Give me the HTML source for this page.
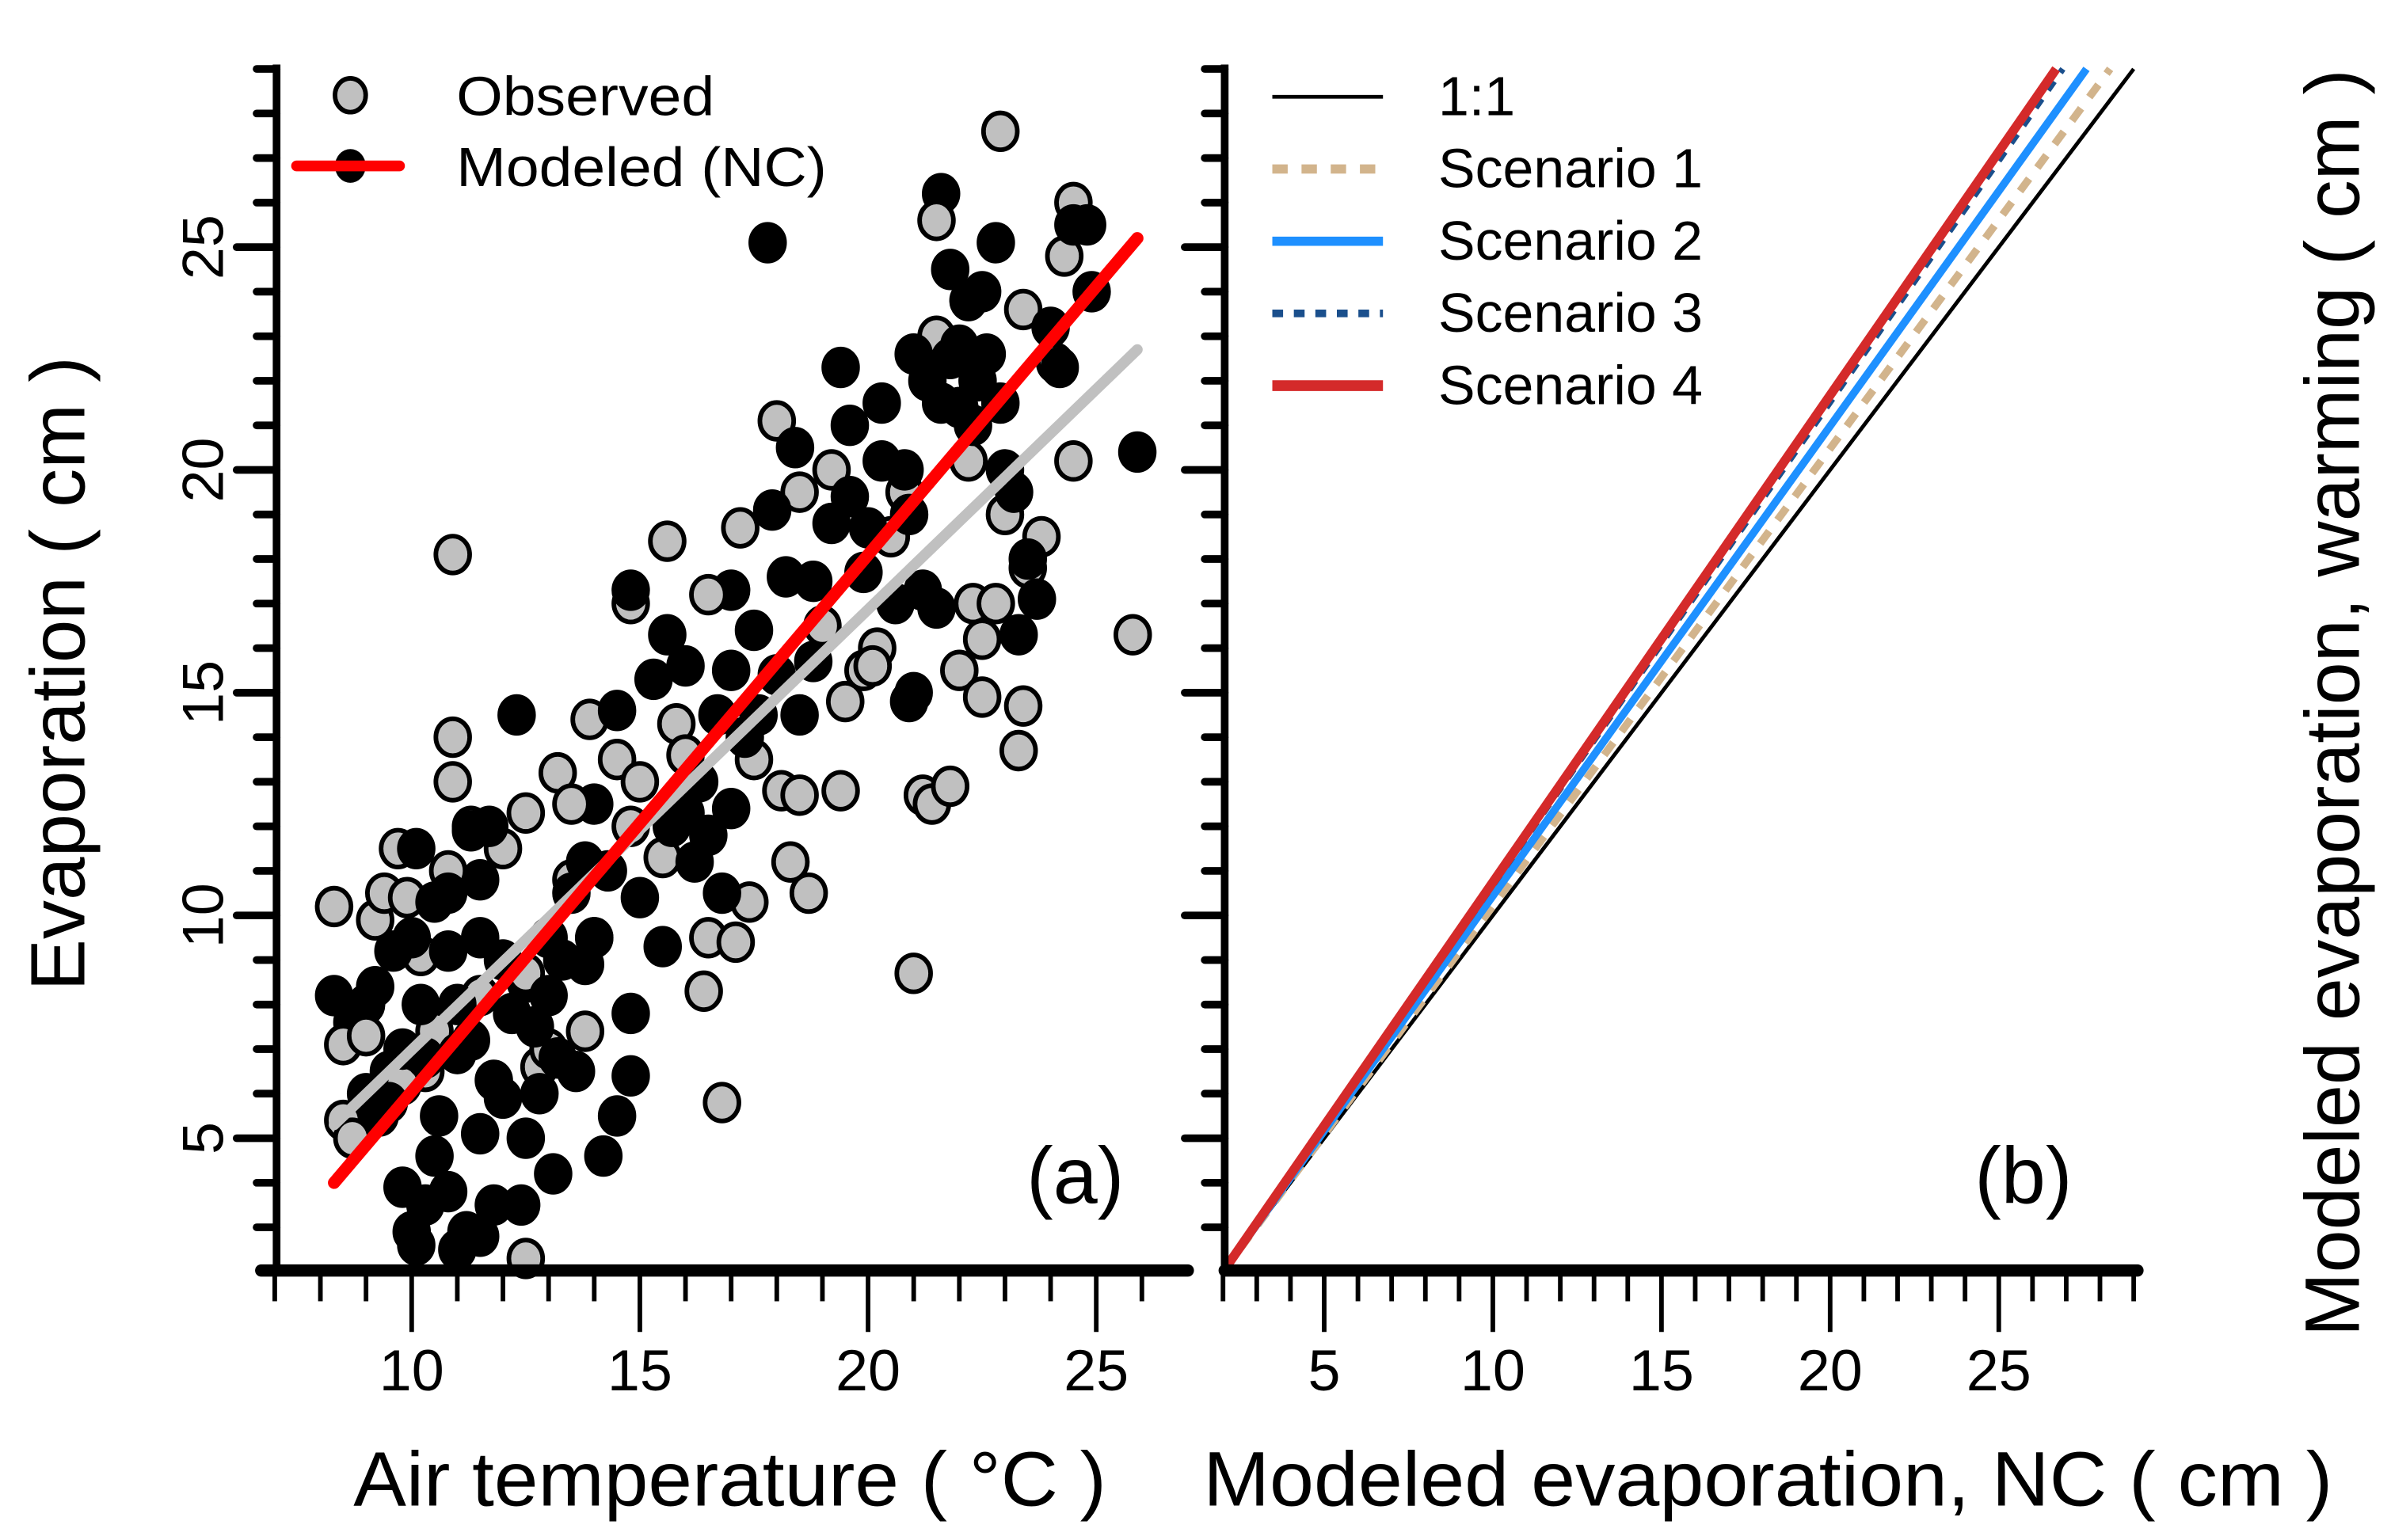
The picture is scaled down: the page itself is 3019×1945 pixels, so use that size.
<!DOCTYPE html>
<html><head><meta charset="utf-8"><style>
html,body{margin:0;padding:0;background:#fff;}
svg{display:block;font-family:"Liberation Sans",Arial,sans-serif;}
</style></head><body>
<svg id="chart" width="3019" height="1945" viewBox="0 0 1556 1002.4" preserveAspectRatio="none" xmlns="http://www.w3.org/2000/svg">
<g id="gA"></g>
<g id="gB"></g>
</svg>
<script>
// ---- data: panel a ----
const obsX=[8.3,8.5,8.5,8.7,9.2,9.4,9.7,9.9,10.2,10.3,10.5,10.9,10.9,10.9,11.3,12.0,12.5,12.5,12.8,13.0,13.2,13.5,13.8,13.9,14.5,14.8,14.8,15.0,15.5,15.6,15.8,16.0,16.5,16.4,16.8,17.1,17.4,17.2,17.5,18.0,18.1,18.3,18.5,18.7,18.5,19.2,19.4,19.5,19.9,20.2,20.5,20.8,21.0,21.2,21.4,21.5,21.8,22.0,22.2,22.3,22.5,22.5,22.8,22.9,23.0,23.3,23.4,23.4,23.5,23.8,24.1,24.3,24.5,24.5,25.8,21.5,20.1,19.0,16.5,14.0,12.5,11.5,9.8,9.0,10.8,13.5];
const obsY=[10.2,7.1,5.4,5.0,9.9,10.5,11.5,10.4,9.1,6.5,7.4,18.1,14.0,13.0,12.0,11.5,12.3,2.3,6.6,7.0,13.2,10.8,7.4,14.4,13.5,12.0,17.0,13.0,11.3,18.4,14.3,13.6,9.5,8.3,5.8,9.4,10.3,18.7,13.5,21.1,12.8,11.2,12.7,10.5,19.5,20.0,12.8,14.8,15.5,16.0,18.5,19.5,8.7,12.7,12.5,23.0,12.9,15.5,20.2,17.0,16.2,14.9,17.0,27.6,19.0,13.7,14.7,23.6,17.8,18.5,22.4,24.8,26.0,20.2,16.3,25.6,15.6,16.5,17.2,9.5,8.7,8.2,6.2,7.3,11.0,12.5];
const modX=[8.3,8.7,9.0,9.2,9.5,9.8,10.0,10.1,10.3,10.5,10.8,11.0,11.2,11.5,11.8,12.4,13.1,14.2,14.5,14.8,14.8,10.1,10.5,10.8,11.3,11.7,12.3,11.5,12.0,12.5,13.0,13.5,13.8,14.0,14.5,14.8,15.3,15.6,16.0,16.3,16.5,16.8,17.0,17.3,17.0,17.5,17.9,18.2,18.4,18.0,18.5,18.8,19.2,19.4,19.6,20.0,20.3,20.9,21.0,21.2,21.5,21.8,22.0,22.2,22.6,22.8,21.6,17.8,23.0,23.3,23.5,23.7,24.0,24.2,24.5,24.8,24.9,25.9,21.0,20.9,12.0,12.8,11.0,12.2,9.5,10.2,11.5,13.2,13.8,15.0,15.5,16.0,14.0,19.9,20.8,22.3,23.2,
 9.0,9.3,9.8,10.3,10.6,11.0,11.3,11.8,12.5,12.7,13.0,13.3,13.6,10.0,10.8,11.5,9.6,21.3,21.6,22.0,22.4,21.8,22.5,22.9,17.0,16.7,18.8,19.6,20.6,20.3,15.7,16.2,14.3,17.6];
const modY=[8.2,7.6,8.0,8.4,6.5,3.9,2.9,2.6,3.5,4.6,3.8,2.5,2.9,2.8,3.5,3.5,4.2,4.6,5.5,6.4,7.8,11.5,10.3,9.2,11.9,12.0,14.5,10.8,9.0,8.5,9.5,10.5,11.2,12.5,14.6,17.3,15.3,16.3,15.6,13.0,11.8,10.5,12.4,14.0,17.3,16.4,19.1,17.6,20.5,15.4,14.5,15.7,18.8,22.3,21.0,18.7,20.2,19.0,22.6,17.3,16.9,22.5,21.4,23.8,22.6,25.1,26.2,25.1,20.0,16.3,18.0,17.1,23.2,22.3,25.5,25.5,24.0,20.4,15.0,14.8,5.9,6.0,6.9,7.8,5.8,8.0,5.1,6.8,8.9,10.4,9.3,12.3,9.5,17.7,20.0,21.0,19.5,
 6.0,5.5,7.0,6.8,5.5,8.0,7.2,6.3,5.0,7.5,8.2,9.0,6.5,9.5,10.5,9.5,9.2,22.0,21.5,22.8,22.0,24.5,24.0,21.5,15.5,14.5,17.5,19.4,17.0,21.5,12.0,11.2,11.0,14.5];
const obsFitX=[8.3,25.9], obsFitY=[5.3,22.7];
const modFitX=[8.3,25.9], modFitY=[4.0,25.2];
const xTicksA=[10,15,20,25], yTicks=[5,10,15,20,25];
// ---- data: panel b ----
const lineNames=["1:1","Scenario 1","Scenario 2","Scenario 3","Scenario 4"];
const lineStartX=[2,2,2,2,2], lineStartY=[2,2,2,2,2];
const lineEndX=[29,28.3,27.6,26.9,26.7], lineEndY=[29,29,29,29,29];
const xTicksB=[5,10,15,20,25];

const NS="http://www.w3.org/2000/svg";
function mk(parent,tag,attrs,text){const e=document.createElementNS(NS,tag);for(const k in attrs)e.setAttribute(k,attrs[k]);if(text!==undefined)e.textContent=text;parent.appendChild(e);return e;}
const yS=v=>827-(v-2.03)*29;
const xA=v=>180+(v-7.04)*29.7;
const xB=v=>797+(v-2.05)*21.95;
const gA=document.getElementById('gA'), gB=document.getElementById('gB');

[[gA,180],[gB,797]].forEach(([g,ax])=>{
  for(let v=3;v<=29;v++){const maj=v%5===0;const t=mk(g,'line',{x1:ax,x2:ax-(maj?26:13),y1:yS(v),y2:yS(v),stroke:'#000','stroke-width':5,'stroke-linecap':'round'});
  
  }
});
yTicks.forEach(v=>{const t=mk(gA,'text',{x:0,y:0,transform:`translate(145,${yS(v)}) rotate(-90)`,'text-anchor':'middle','font-size':38},String(v));

});
for(let v=7;v<=26;v++){const maj=v%5===0;const t=mk(gA,'line',{x1:xA(v),x2:xA(v),y1:827,y2:827+(maj?40:20),stroke:'#000','stroke-width':3});

}
xTicksA.forEach(v=>{const t=mk(gA,'text',{x:xA(v),y:905,'text-anchor':'middle','font-size':38},String(v));

});
for(let v=2;v<=29;v++){const maj=v%5===0;const t=mk(gB,'line',{x1:xB(v),x2:xB(v),y1:827,y2:827+(maj?40:20),stroke:'#000','stroke-width':3});

}
xTicksB.forEach(v=>{const t=mk(gB,'text',{x:xB(v),y:905,'text-anchor':'middle','font-size':38},String(v));

});

const n=Math.max(obsX.length,modX.length);
for(let i=0;i<n;i++){
  if(i<modX.length){const c=mk(gA,'ellipse',{cx:xA(modX[i]),cy:yS(modY[i]),rx:11,ry:12,fill:'#000',stroke:'#000','stroke-width':3});
  
  }
  if(i<obsX.length){const c=mk(gA,'ellipse',{cx:xA(obsX[i]),cy:yS(obsY[i]),rx:11,ry:12,fill:'#c0c0c0',stroke:'#000','stroke-width':3});
  
  }
}
const of=mk(gA,'line',{x1:xA(obsFitX[0]),y1:yS(obsFitY[0]),x2:xA(obsFitX[1]),y2:yS(obsFitY[1]),stroke:'#c0c0c0','stroke-width':7,'stroke-linecap':'round'});


const mf=mk(gA,'line',{x1:xA(modFitX[0]),y1:yS(modFitY[0]),x2:xA(modFitX[1]),y2:yS(modFitY[1]),stroke:'#ff0000','stroke-width':8,'stroke-linecap':'round'});



const axA1=mk(gA,'line',{x1:180,y1:42,x2:180,y2:827,stroke:'#000','stroke-width':5});


const axA2=mk(gA,'line',{x1:170,y1:827,x2:773,y2:827,stroke:'#000','stroke-width':8,'stroke-linecap':'round'});



const colors=['#000','#d2b48c','#1e90ff','#1a4f8c','#d42a2a'];
const widths=[2.5,5,5,4,6];
const dashes=['none','10,9','none','7,7','none'];
[0,1,2,3,4].forEach(i=>{const l=mk(gB,'line',{x1:xB(lineStartX[i]),y1:yS(lineStartY[i]),x2:xB(lineEndX[i]),y2:yS(lineEndY[i]),stroke:colors[i],'stroke-width':widths[i],'stroke-dasharray':dashes[i]});

});
const axB1=mk(gB,'line',{x1:797,y1:42,x2:797,y2:827,stroke:'#000','stroke-width':5});


const axB2=mk(gB,'line',{x1:797,y1:827,x2:1391,y2:827,stroke:'#000','stroke-width':8,'stroke-linecap':'round'});



lineNames.forEach((nm,i)=>{const y=63+i*47;
  const l=mk(gB,'line',{x1:828,x2:900,y1:y,y2:y,stroke:colors[i],'stroke-width':widths[i]+(i==0?0:1),'stroke-dasharray':dashes[i]});
  
  
  const t=mk(gB,'text',{x:936,y:y+12,'font-size':36},nm);
  
  
});
</script>
<svg style="position:absolute;left:0;top:0" width="3019" height="1945" viewBox="0 0 1556 1002.4" preserveAspectRatio="none" xmlns="http://www.w3.org/2000/svg" font-family="Liberation Sans, Arial, sans-serif">
<g>
<ellipse cx="228" cy="62" rx="10" ry="11" fill="#c0c0c0" stroke="#000" stroke-width="3"/>
<ellipse cx="228" cy="108" rx="10" ry="11" fill="#000"/>
<line x1="193" y1="108" x2="260" y2="108" stroke="#ff0000" stroke-width="7" stroke-linecap="round"/>
<text x="297" y="75" font-size="36" textLength="168" lengthAdjust="spacingAndGlyphs">Observed</text>
<text x="297" y="121" font-size="36" textLength="241" lengthAdjust="spacingAndGlyphs">Modeled (NC)</text>
</g>
<text x="668" y="783" font-size="52">(a)</text>
<text x="1285" y="783" font-size="52">(b)</text>
<text x="230" y="980" font-size="50" textLength="490" lengthAdjust="spacingAndGlyphs">Air temperature ( °C )</text>
<text x="783" y="980" font-size="50" textLength="735" lengthAdjust="spacingAndGlyphs">Modeled evaporation, NC ( cm )</text>
<text transform="translate(55,645) rotate(-90)" font-size="50" textLength="413" lengthAdjust="spacingAndGlyphs">Evaporation ( cm )</text>
<text transform="translate(1535,870) rotate(-90)" font-size="50" textLength="825" lengthAdjust="spacingAndGlyphs">Modeled evaporation, warming ( cm )</text>
</svg>
</body></html>
